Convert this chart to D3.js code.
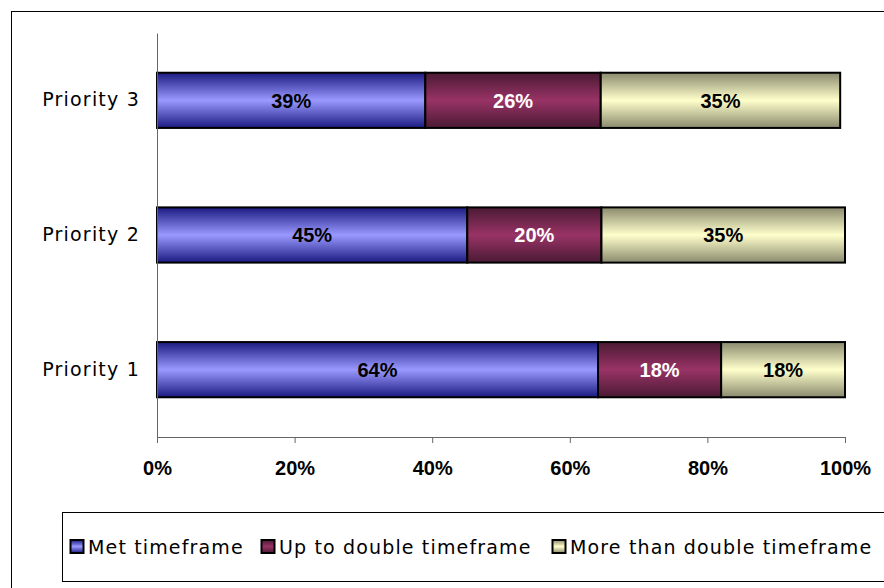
<!DOCTYPE html>
<html>
<head>
    <meta charset="utf-8">
    <script src="https://d3js.org/d3.v7.min.js"></script>
    <style>
        body { margin: 0; background: #fff; }
    </style>
</head>
<body>
    <script>
        var width = 884;
        var height = 588;

        // data (percent)
        var categories = ["Priority 3", "Priority 2", "Priority 1"];
        var seriesNames = ["Met timeframe", "Up to double timeframe", "More than double timeframe"];
        var met = [39, 45.1, 64.1];
        var upToDouble = [25.5, 19.5, 17.9];
        var moreThanDouble = [34.8, 35.4, 18.0];
        var tickLabels = [0, 20, 40, 60, 80, 100];

        var seriesValues = [met, upToDouble, moreThanDouble];
        var colors = [
            { edge: "#1a1a80", mid: "#9999ff", text: "#000" },
            { edge: "#4a1a33", mid: "#993366", text: "#fff" },
            { edge: "#8a8a6e", mid: "#ffffcc", text: "#000" }
        ];

        var svg = d3.select("body").append("svg")
            .attr("width", width)
            .attr("height", height);

        // gradients
        var defs = svg.append("defs");
        colors.forEach(function (c, i) {
            var g = defs.append("linearGradient")
                .attr("id", "grad" + i)
                .attr("x1", 0).attr("y1", 0).attr("x2", 0).attr("y2", 1);
            g.append("stop").attr("offset", "0%").attr("stop-color", c.edge);
            g.append("stop").attr("offset", "50%").attr("stop-color", c.mid);
            g.append("stop").attr("offset", "100%").attr("stop-color", c.edge);
        });

        // outer frame
        svg.append("rect")
            .attr("x", 11.5).attr("y", 11.5)
            .attr("width", width).attr("height", height)
            .attr("fill", "none").attr("stroke", "#000").attr("stroke-width", 1);

        var x = d3.scaleLinear().domain([0, 100]).range([157, 845]);
        var y = d3.scaleBand().domain(categories).range([33, 437]).paddingInner(0.59).paddingOuter(0.295);

        // stacked rows
        var rows = categories.map(function (c, i) {
            var x0 = 0;
            return seriesValues.map(function (s, j) {
                var seg = { cat: c, series: j, start: x0, end: x0 + s[i], value: s[i] };
                x0 += s[i];
                return seg;
            });
        });
        var segs = [].concat.apply([], rows);

        svg.selectAll("rect.seg")
            .data(segs)
            .enter()
            .append("rect")
            .attr("class", "seg")
            .attr("x", function (d) { return x(d.start); })
            .attr("y", function (d) { return y(d.cat); })
            .attr("width", function (d) { return x(d.end) - x(d.start); })
            .attr("height", y.bandwidth())
            .attr("fill", function (d) { return "url(#grad" + d.series + ")"; })
            .attr("stroke", "#000")
            .attr("stroke-width", 2);

        svg.selectAll("text.val")
            .data(segs)
            .enter()
            .append("text")
            .attr("class", "val")
            .attr("x", function (d) { return (x(d.start) + x(d.end)) / 2; })
            .attr("y", function (d) { return y(d.cat) + y.bandwidth() / 2; })
            .attr("dy", "0.36em")
            .attr("text-anchor", "middle")
            .attr("font-family", "Liberation Sans, Arial, sans-serif")
            .attr("font-weight", "bold")
            .attr("font-size", 20)
            .attr("fill", function (d) { return colors[d.series].text; })
            .text(function (d) { return Math.round(d.value) + "%"; });

        // axes
        var xAxis = d3.axisBottom(x)
            .tickValues(tickLabels)
            .tickSize(6)
            .tickFormat(function (d) { return d + "%"; });
        var gx = svg.append("g")
            .attr("transform", "translate(0,437)")
            .call(xAxis);
        gx.select(".domain").attr("stroke", "#666").attr("d", "M157.5,0.5H845.5");
        gx.selectAll(".tick line").attr("stroke", "#666");
        gx.selectAll("text")
            .attr("font-family", "Liberation Sans, Arial, sans-serif")
            .attr("font-weight", "bold")
            .attr("font-size", 20)
            .attr("fill", "#000")
            .attr("y", 38)
            .attr("dy", 0);

        var yAxis = d3.axisLeft(y).tickSize(0).tickPadding(17);
        var gy = svg.append("g")
            .attr("transform", "translate(157,0)")
            .call(yAxis);
        gy.select(".domain").attr("stroke", "#666");
        gy.selectAll("text")
            .attr("font-family", "DejaVu Sans, Verdana, sans-serif")
            .attr("font-size", 19)
            .attr("letter-spacing", 1.2)
            .attr("fill", "#000");

        // legend
        svg.append("rect")
            .attr("x", 62.5).attr("y", 512.5)
            .attr("width", 900).attr("height", 69)
            .attr("fill", "none").attr("stroke", "#000");

        var legendX = [70, 261, 552];
        var legend = svg.selectAll("g.leg")
            .data(seriesNames)
            .enter()
            .append("g")
            .attr("class", "leg")
            .attr("transform", function (d, i) { return "translate(" + legendX[i] + ",547)"; });
        legend.append("rect")
            .attr("x", 0.5).attr("y", -7)
            .attr("width", 13).attr("height", 13)
            .attr("fill", function (d, i) { return "url(#grad" + i + ")"; })
            .attr("stroke", "#000").attr("stroke-width", 2);
        legend.append("text")
            .attr("x", 18)
            .attr("dy", "0.36em")
            .attr("font-family", "DejaVu Sans, Verdana, sans-serif")
            .attr("font-size", 19)
            .attr("letter-spacing", 1.15)
            .attr("fill", "#000")
            .text(function (d) { return d; });
    </script>
</body>
</html>
